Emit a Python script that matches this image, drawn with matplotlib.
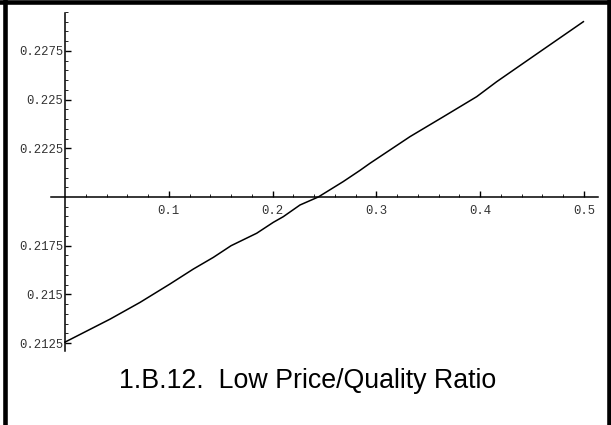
import matplotlib
matplotlib.use("Agg")
import matplotlib.pyplot as plt
from matplotlib.lines import Line2D

# values
ratio = [0.0, 0.0434, 0.0723, 0.101, 0.1236, 0.1429, 0.16, 0.1847, 0.2007,
         0.2103, 0.2264, 0.244, 0.268, 0.284, 0.2938, 0.3324, 0.3645, 0.3966,
         0.4159, 0.4576, 0.4994]
value = [0.21255, 0.21373, 0.21459, 0.21553, 0.2163, 0.2169, 0.2175, 0.21814,
         0.2187, 0.21899, 0.21959, 0.2200, 0.22079, 0.22136, 0.22173, 0.2231,
         0.22412, 0.22515, 0.22592, 0.22746, 0.2290]

x_ticks = [0.1, 0.2, 0.3, 0.4, 0.5]
x_labels = ["0.1", "0.2", "0.3", "0.4", "0.5"]
y_ticks = [0.2125, 0.215, 0.2175, 0.2225, 0.225, 0.2275]
y_labels = ["0.2125", "0.215", "0.2175", "0.2225", "0.225", "0.2275"]
caption = "1.B.12.  Low Price/Quality Ratio"

fig = plt.figure(figsize=(6.11, 4.25), dpi=100)
ax = fig.add_axes([0, 0, 1, 1])
ax.patch.set_alpha(0)

ax.plot(ratio, value, color="black", lw=1.1)

# axes cross at (0, 0.22), like Mathematica
ax.set_xlim(-0.0626, 0.526)
ax.set_ylim(0.208296, 0.230113)
for s in ["top", "right"]:
    ax.spines[s].set_visible(False)
ax.spines["left"].set_position(("data", 0))
ax.spines["bottom"].set_position(("data", 0.22))
ax.spines["left"].set_bounds(0.2121, 0.22945)
ax.spines["bottom"].set_bounds(-0.0135, 0.5135)
for s in ["left", "bottom"]:
    ax.spines[s].set_linewidth(1.1)

ax.set_xticks(x_ticks)
ax.set_xticklabels(x_labels)
ax.set_yticks(y_ticks)
ax.set_yticklabels(y_labels)
ax.set_xticks([i * 0.02 for i in range(1, 26) if i % 5], minor=True)
ax.set_yticks([0.2125 + i * 0.0005 for i in range(1, 35) if i % 5], minor=True)

ax.tick_params(which="major", direction="in", length=4, width=1, pad=6,
               labelsize=8.8, labelcolor="#333333")
ax.tick_params(axis="y", which="major", pad=1)
ax.tick_params(which="minor", direction="in", length=2, width=0.6)
for lbl in ax.get_xticklabels() + ax.get_yticklabels():
    lbl.set_family("Liberation Mono")

fig.text(308 / 611, 1 - 388 / 425, caption, ha="center", va="baseline",
         fontsize=19.3, family="Liberation Sans")

# frame around the picture (no bottom edge)
fig.add_artist(Line2D([0, 1], [1 - 2 / 425] * 2, color="black", lw=3.3))
fig.add_artist(Line2D([5 / 611] * 2, [0, 1], color="black", lw=3.3))
fig.add_artist(Line2D([609 / 611] * 2, [0, 1], color="black", lw=3.3))

fig.savefig("out.png", dpi=100)
